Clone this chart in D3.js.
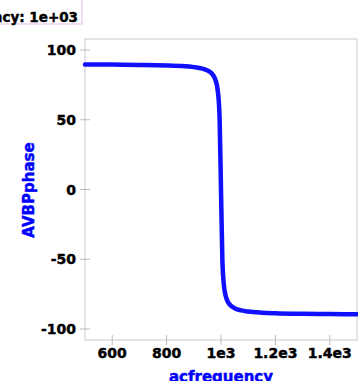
<!DOCTYPE html>
<html><head><meta charset="utf-8">
<script src="https://cdn.jsdelivr.net/npm/d3@7"></script>
<style>body{margin:0;background:#fff;overflow:hidden}svg{display:block}</style>
</head><body>
<script>
const freq = [500,600,700,800,850,900,925,950,960,970,975,980,985,990,995,1000,1005,1010,1015,1020,1025,1030,1040,1050,1075,1100,1150,1200,1300,1400,1500];
const phase = [89.68,89.55,89.34,88.94,88.54,87.74,86.95,85.36,84.17,82.2,80.66,78.35,74.58,67.48,50.26,0,-50.12,-67.28,-74.37,-78.12,-80.42,-81.97,-83.94,-85.12,-86.7,-87.5,-88.3,-88.7,-89.1,-89.3,-89.43];
const xTicks = [600,800,1000,1200,1400];
const xTickLabels = ["600","800","1e3","1.2e3","1.4e3"];
const yTicks = [-100,-50,0,50,100];
const tooltipText = "acfrequency: 1e+03";

const W=358,H=381;
const svg=d3.select("body").append("svg").attr("width",W).attr("height",H);
const x=d3.scaleLinear().domain([500,1500]).range([85,357]);
const y=d3.scaleLinear().domain([-107.9,107.9]).range([340,39]);
const font="DejaVu Sans, Verdana, sans-serif";

svg.append("rect").attr("x",85).attr("y",39).attr("width",272).attr("height",301)
  .attr("fill","none").attr("stroke","#dcdcdc").attr("stroke-width",1.5);

function heavy(sel,col){return sel.attr("font-family",font).attr("font-weight","bold")
  .attr("fill",col).attr("stroke",col).attr("stroke-width",0.45);}

const gx=svg.append("g");
xTicks.forEach((t,i)=>{
  gx.append("line").attr("x1",x(t)).attr("x2",x(t)).attr("y1",335).attr("y2",345).attr("stroke","#bbb");
  heavy(gx.append("text").attr("x",x(t)).attr("y",358).attr("text-anchor","middle")
    .attr("font-size",14),"#000").text(xTickLabels[i]);
});
const gy=svg.append("g");
yTicks.forEach(t=>{
  gy.append("line").attr("x1",80).attr("x2",90).attr("y1",y(t)).attr("y2",y(t)).attr("stroke","#bbb");
  heavy(gy.append("text").attr("x",76).attr("y",y(t)+5).attr("text-anchor","end")
    .attr("font-size",14),"#000").text(t);
});

heavy(svg.append("text").attr("transform","translate(34,190) rotate(-90)").attr("text-anchor","middle")
  .attr("font-size",15),"blue").text("AVBPphase");
heavy(svg.append("text").attr("x",221).attr("y",382).attr("text-anchor","middle")
  .attr("font-size",15),"blue").text("acfrequency");

const line=d3.line().x((d,i)=>x(freq[i])).y(d=>y(d)).curve(d3.curveMonotoneX);
svg.append("path").datum(phase).attr("d",line).attr("fill","none")
  .attr("stroke","#1010ff").attr("stroke-width",4.5).attr("stroke-linejoin","round").attr("stroke-linecap","round");

svg.append("rect").attr("x",-60).attr("y",-10).attr("width",142).attr("height",34)
  .attr("fill","white").attr("fill-opacity",0.9).attr("stroke","#e2bce8").attr("stroke-width",1);
heavy(svg.append("text").attr("x",78).attr("y",21.5).attr("text-anchor","end")
  .attr("font-size",13.5),"#000").text(tooltipText);
</script>
</body></html>
